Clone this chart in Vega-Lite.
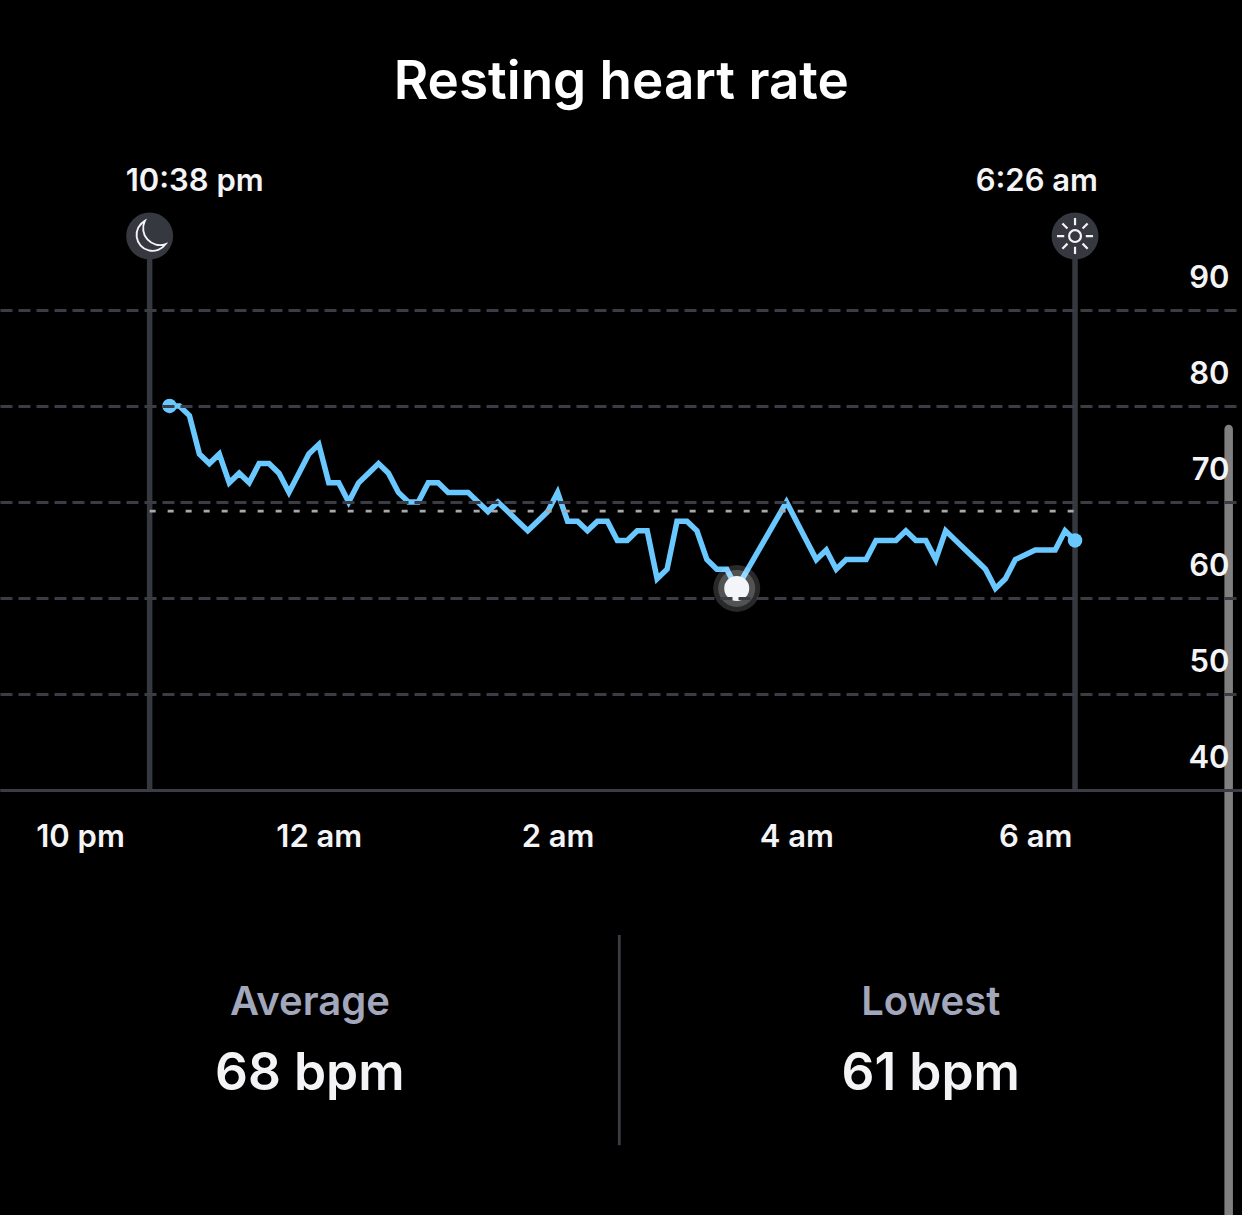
{
  "$schema": "https://vega.github.io/schema/vega-lite/v6.json",
  "autosize": "none",
  "width": 1242,
  "height": 1215,
  "padding": 0,
  "background": "#000000",
  "datasets": {
    "hr": [
      {"minutes": 45, "bpm": 80}, {"minutes": 50, "bpm": 80}, {"minutes": 55, "bpm": 79},
      {"minutes": 60, "bpm": 75}, {"minutes": 65, "bpm": 74}, {"minutes": 70, "bpm": 75},
      {"minutes": 75, "bpm": 72}, {"minutes": 80, "bpm": 73}, {"minutes": 85, "bpm": 72},
      {"minutes": 90, "bpm": 74}, {"minutes": 95, "bpm": 74}, {"minutes": 100, "bpm": 73},
      {"minutes": 105, "bpm": 71}, {"minutes": 110, "bpm": 73}, {"minutes": 115, "bpm": 75},
      {"minutes": 120, "bpm": 76}, {"minutes": 125, "bpm": 72}, {"minutes": 130, "bpm": 72},
      {"minutes": 135, "bpm": 70}, {"minutes": 140, "bpm": 72}, {"minutes": 145, "bpm": 73},
      {"minutes": 150, "bpm": 74}, {"minutes": 155, "bpm": 73}, {"minutes": 160, "bpm": 71},
      {"minutes": 165, "bpm": 70}, {"minutes": 170, "bpm": 70}, {"minutes": 175, "bpm": 72},
      {"minutes": 180, "bpm": 72}, {"minutes": 185, "bpm": 71}, {"minutes": 190, "bpm": 71},
      {"minutes": 195, "bpm": 71}, {"minutes": 200, "bpm": 70}, {"minutes": 205, "bpm": 69},
      {"minutes": 210, "bpm": 70}, {"minutes": 215, "bpm": 69}, {"minutes": 220, "bpm": 68},
      {"minutes": 225, "bpm": 67}, {"minutes": 230, "bpm": 68}, {"minutes": 235, "bpm": 69},
      {"minutes": 240, "bpm": 71}, {"minutes": 245, "bpm": 68}, {"minutes": 250, "bpm": 68},
      {"minutes": 255, "bpm": 67}, {"minutes": 260, "bpm": 68}, {"minutes": 265, "bpm": 68},
      {"minutes": 270, "bpm": 66}, {"minutes": 275, "bpm": 66}, {"minutes": 280, "bpm": 67},
      {"minutes": 285, "bpm": 67}, {"minutes": 290, "bpm": 62}, {"minutes": 295, "bpm": 63},
      {"minutes": 300, "bpm": 68}, {"minutes": 305, "bpm": 68}, {"minutes": 310, "bpm": 67},
      {"minutes": 315, "bpm": 64}, {"minutes": 320, "bpm": 63}, {"minutes": 325, "bpm": 63},
      {"minutes": 330, "bpm": 61}, {"minutes": 355, "bpm": 70}, {"minutes": 360, "bpm": 68},
      {"minutes": 365, "bpm": 66}, {"minutes": 370, "bpm": 64}, {"minutes": 375, "bpm": 65},
      {"minutes": 380, "bpm": 63}, {"minutes": 385, "bpm": 64}, {"minutes": 390, "bpm": 64},
      {"minutes": 395, "bpm": 64}, {"minutes": 400, "bpm": 66}, {"minutes": 405, "bpm": 66},
      {"minutes": 410, "bpm": 66}, {"minutes": 415, "bpm": 67}, {"minutes": 420, "bpm": 66},
      {"minutes": 425, "bpm": 66}, {"minutes": 430, "bpm": 64}, {"minutes": 435, "bpm": 67},
      {"minutes": 440, "bpm": 66}, {"minutes": 445, "bpm": 65}, {"minutes": 450, "bpm": 64},
      {"minutes": 455, "bpm": 63}, {"minutes": 460, "bpm": 61}, {"minutes": 465, "bpm": 62},
      {"minutes": 470, "bpm": 64}, {"minutes": 480, "bpm": 65}, {"minutes": 485, "bpm": 65},
      {"minutes": 490, "bpm": 65}, {"minutes": 495, "bpm": 67}, {"minutes": 500, "bpm": 66}
    ],
    "ends": [
      {"minutes": 45, "bpm": 80},
      {"minutes": 500, "bpm": 66}
    ],
    "lowest": [
      {"minutes": 330, "bpm": 61}
    ],
    "sleep": [
      {"event": "asleep", "minutes": 35, "bpm": 97.7, "base": 40, "label": "10:38 pm"},
      {"event": "awake", "minutes": 500, "bpm": 97.7, "base": 40, "label": "6:26 am"}
    ],
    "average": [
      {"minutes": 35, "end": 500, "bpm": 69.05}
    ],
    "heading": [
      {"minutes": 272, "bpm": 113.65, "text": "Resting heart rate"}
    ],
    "summary": [
      {"kind": "name", "minutes": 115.5, "bpm": 16.6, "text": "Average"},
      {"kind": "name", "minutes": 427.5, "bpm": 16.6, "text": "Lowest"},
      {"kind": "value", "minutes": 115.5, "bpm": 8.7, "text": "68 bpm"},
      {"kind": "value", "minutes": 427.5, "bpm": 8.7, "text": "61 bpm"}
    ],
    "divider": [
      {"minutes": 271, "bpm": 24.9, "base": 3}
    ],
    "scrollbar": [
      {"minutes": 577.2, "bpm": 77.6, "base": -4.27}
    ]
  },
  "encoding": {
    "x": {
      "field": "minutes",
      "type": "quantitative",
      "title": null,
      "scale": {"domain": [-40.2, 583.9], "nice": false, "zero": false},
      "axis": {
        "orient": "bottom",
        "offset": -425,
        "zindex": 1,
        "grid": false,
        "ticks": false,
        "domainColor": "#3b3c45",
        "domainWidth": 2.8,
        "values": [0, 120, 240, 360, 480],
        "labelExpr": "datum.value == 0 ? '10 pm' : datum.value == 120 ? '12 am' : datum.value == 240 ? '2 am' : datum.value == 360 ? '4 am' : '6 am'",
        "labelColor": "#f4f4f6",
        "labelFont": "Inter",
        "labelFontSize": 31,
        "labelFontWeight": 600,
        "labelBaseline": "middle",
        "labelPadding": 47,
        "labelFlush": false,
        "labelOverlap": false
      }
    },
    "y": {
      "field": "bpm",
      "type": "quantitative",
      "title": null,
      "scale": {"domain": [-4.27, 122.29], "nice": false, "zero": false},
      "axis": {
        "orient": "right",
        "values": [40, 50, 60, 70, 80, 90],
        "zindex": 1,
        "domain": false,
        "ticks": false,
        "grid": true,
        "gridColor": "#3b3c45",
        "gridWidth": 2.8,
        "gridDash": [12, 6],
        "gridDashOffset": 12,
        "labelColor": "#f4f4f6",
        "labelFont": "Inter",
        "labelFontSize": 31,
        "labelFontWeight": 600,
        "labelAlign": "right",
        "labelBaseline": "middle",
        "labelOffset": -31,
        "labelPadding": -13,
        "labelFlush": false,
        "labelOverlap": false
      }
    }
  },
  "layer": [
    {
      "data": {"name": "heading"},
      "mark": {"type": "text", "align": "center", "baseline": "middle", "color": "#ffffff", "font": "Inter", "fontSize": 53, "fontWeight": 600},
      "encoding": {"text": {"field": "text"}}
    },
    {
      "data": {"name": "scrollbar"},
      "mark": {"type": "rule", "color": "#808080", "strokeWidth": 8.5, "strokeCap": "round"},
      "encoding": {"y2": {"field": "base"}}
    },
    {
      "data": {"name": "divider"},
      "mark": {"type": "rule", "color": "#3b3c45", "strokeWidth": 2.8},
      "encoding": {"y2": {"field": "base"}}
    },
    {
      "data": {"name": "sleep"},
      "mark": {"type": "rule", "color": "#363840", "strokeWidth": 5.5},
      "encoding": {"y2": {"field": "base"}}
    },
    {
      "data": {"name": "sleep"},
      "mark": {"type": "point", "shape": "circle", "filled": true, "color": "#363840", "size": 2209, "opacity": 1},
      "encoding": {}
    },
    {
      "data": {"name": "sleep"},
      "transform": [{"filter": "datum.event === 'asleep'"}],
      "mark": {
        "type": "point",
        "shape": "M-0.3,-0.95 A1,1 0 1 0 1,0.5 A1.05,1.05 0 0 1 -0.3,-0.95 Z",
        "filled": false,
        "color": "#f4f4f6",
        "strokeWidth": 1.9,
        "size": 1024,
        "opacity": 1
      },
      "encoding": {}
    },
    {
      "data": {"name": "sleep"},
      "transform": [{"filter": "datum.event === 'awake'"}],
      "mark": {
        "type": "point",
        "shape": "M0.33,0 A0.33,0.33 0 1 0 -0.33,0 A0.33,0.33 0 1 0 0.33,0 Z M0.6,0 L1,0 M-0.6,0 L-1,0 M0,0.6 L0,1 M0,-0.6 L0,-1 M0.42,0.42 L0.7,0.7 M-0.42,0.42 L-0.7,0.7 M0.42,-0.42 L0.7,-0.7 M-0.42,-0.42 L-0.7,-0.7",
        "filled": false,
        "color": "#f4f4f6",
        "strokeWidth": 2.2,
        "size": 1296,
        "opacity": 1
      },
      "encoding": {}
    },
    {
      "data": {"name": "sleep"},
      "transform": [{"filter": "datum.event === 'asleep'"}],
      "mark": {"type": "text", "align": "left", "baseline": "middle", "dx": -24, "dy": -54, "color": "#f4f4f6", "font": "Inter", "fontSize": 31, "fontWeight": 600},
      "encoding": {"text": {"field": "label"}}
    },
    {
      "data": {"name": "sleep"},
      "transform": [{"filter": "datum.event === 'awake'"}],
      "mark": {"type": "text", "align": "right", "baseline": "middle", "dx": 23, "dy": -54, "color": "#f4f4f6", "font": "Inter", "fontSize": 31, "fontWeight": 600},
      "encoding": {"text": {"field": "label"}}
    },
    {
      "data": {"name": "hr"},
      "mark": {"type": "line", "color": "#69c8ff", "strokeWidth": 5.5, "strokeJoin": "miter"},
      "encoding": {}
    },
    {
      "data": {"name": "average"},
      "mark": {"type": "rule", "color": "#a8a8a8", "strokeWidth": 2.8, "strokeDash": [6, 12]},
      "encoding": {"x2": {"field": "end"}}
    },
    {
      "data": {"name": "ends"},
      "mark": {"type": "point", "shape": "circle", "filled": true, "color": "#69c8ff", "size": 210, "opacity": 1},
      "encoding": {}
    },
    {
      "data": {"name": "lowest"},
      "mark": {"type": "point", "shape": "circle", "filled": true, "color": "#ffffff", "size": 2209, "opacity": 0.16},
      "encoding": {}
    },
    {
      "data": {"name": "lowest"},
      "mark": {"type": "point", "shape": "circle", "filled": true, "color": "#ffffff", "size": 1369, "opacity": 0.2},
      "encoding": {}
    },
    {
      "data": {"name": "lowest"},
      "mark": {"type": "point", "shape": "circle", "filled": true, "color": "#f3f5f8", "size": 625, "opacity": 1},
      "encoding": {}
    },
    {
      "data": {"name": "summary"},
      "transform": [{"filter": "datum.kind === 'name'"}],
      "mark": {"type": "text", "align": "center", "baseline": "alphabetic", "color": "#a3a7bb", "font": "Inter", "fontSize": 40, "fontWeight": 600},
      "encoding": {"text": {"field": "text"}}
    },
    {
      "data": {"name": "summary"},
      "transform": [{"filter": "datum.kind === 'value'"}],
      "mark": {"type": "text", "align": "center", "baseline": "alphabetic", "color": "#f4f4f6", "font": "Inter", "fontSize": 51.5, "fontWeight": 600},
      "encoding": {"text": {"field": "text"}}
    }
  ],
  "config": {
    "view": {"stroke": null}
  }
}
